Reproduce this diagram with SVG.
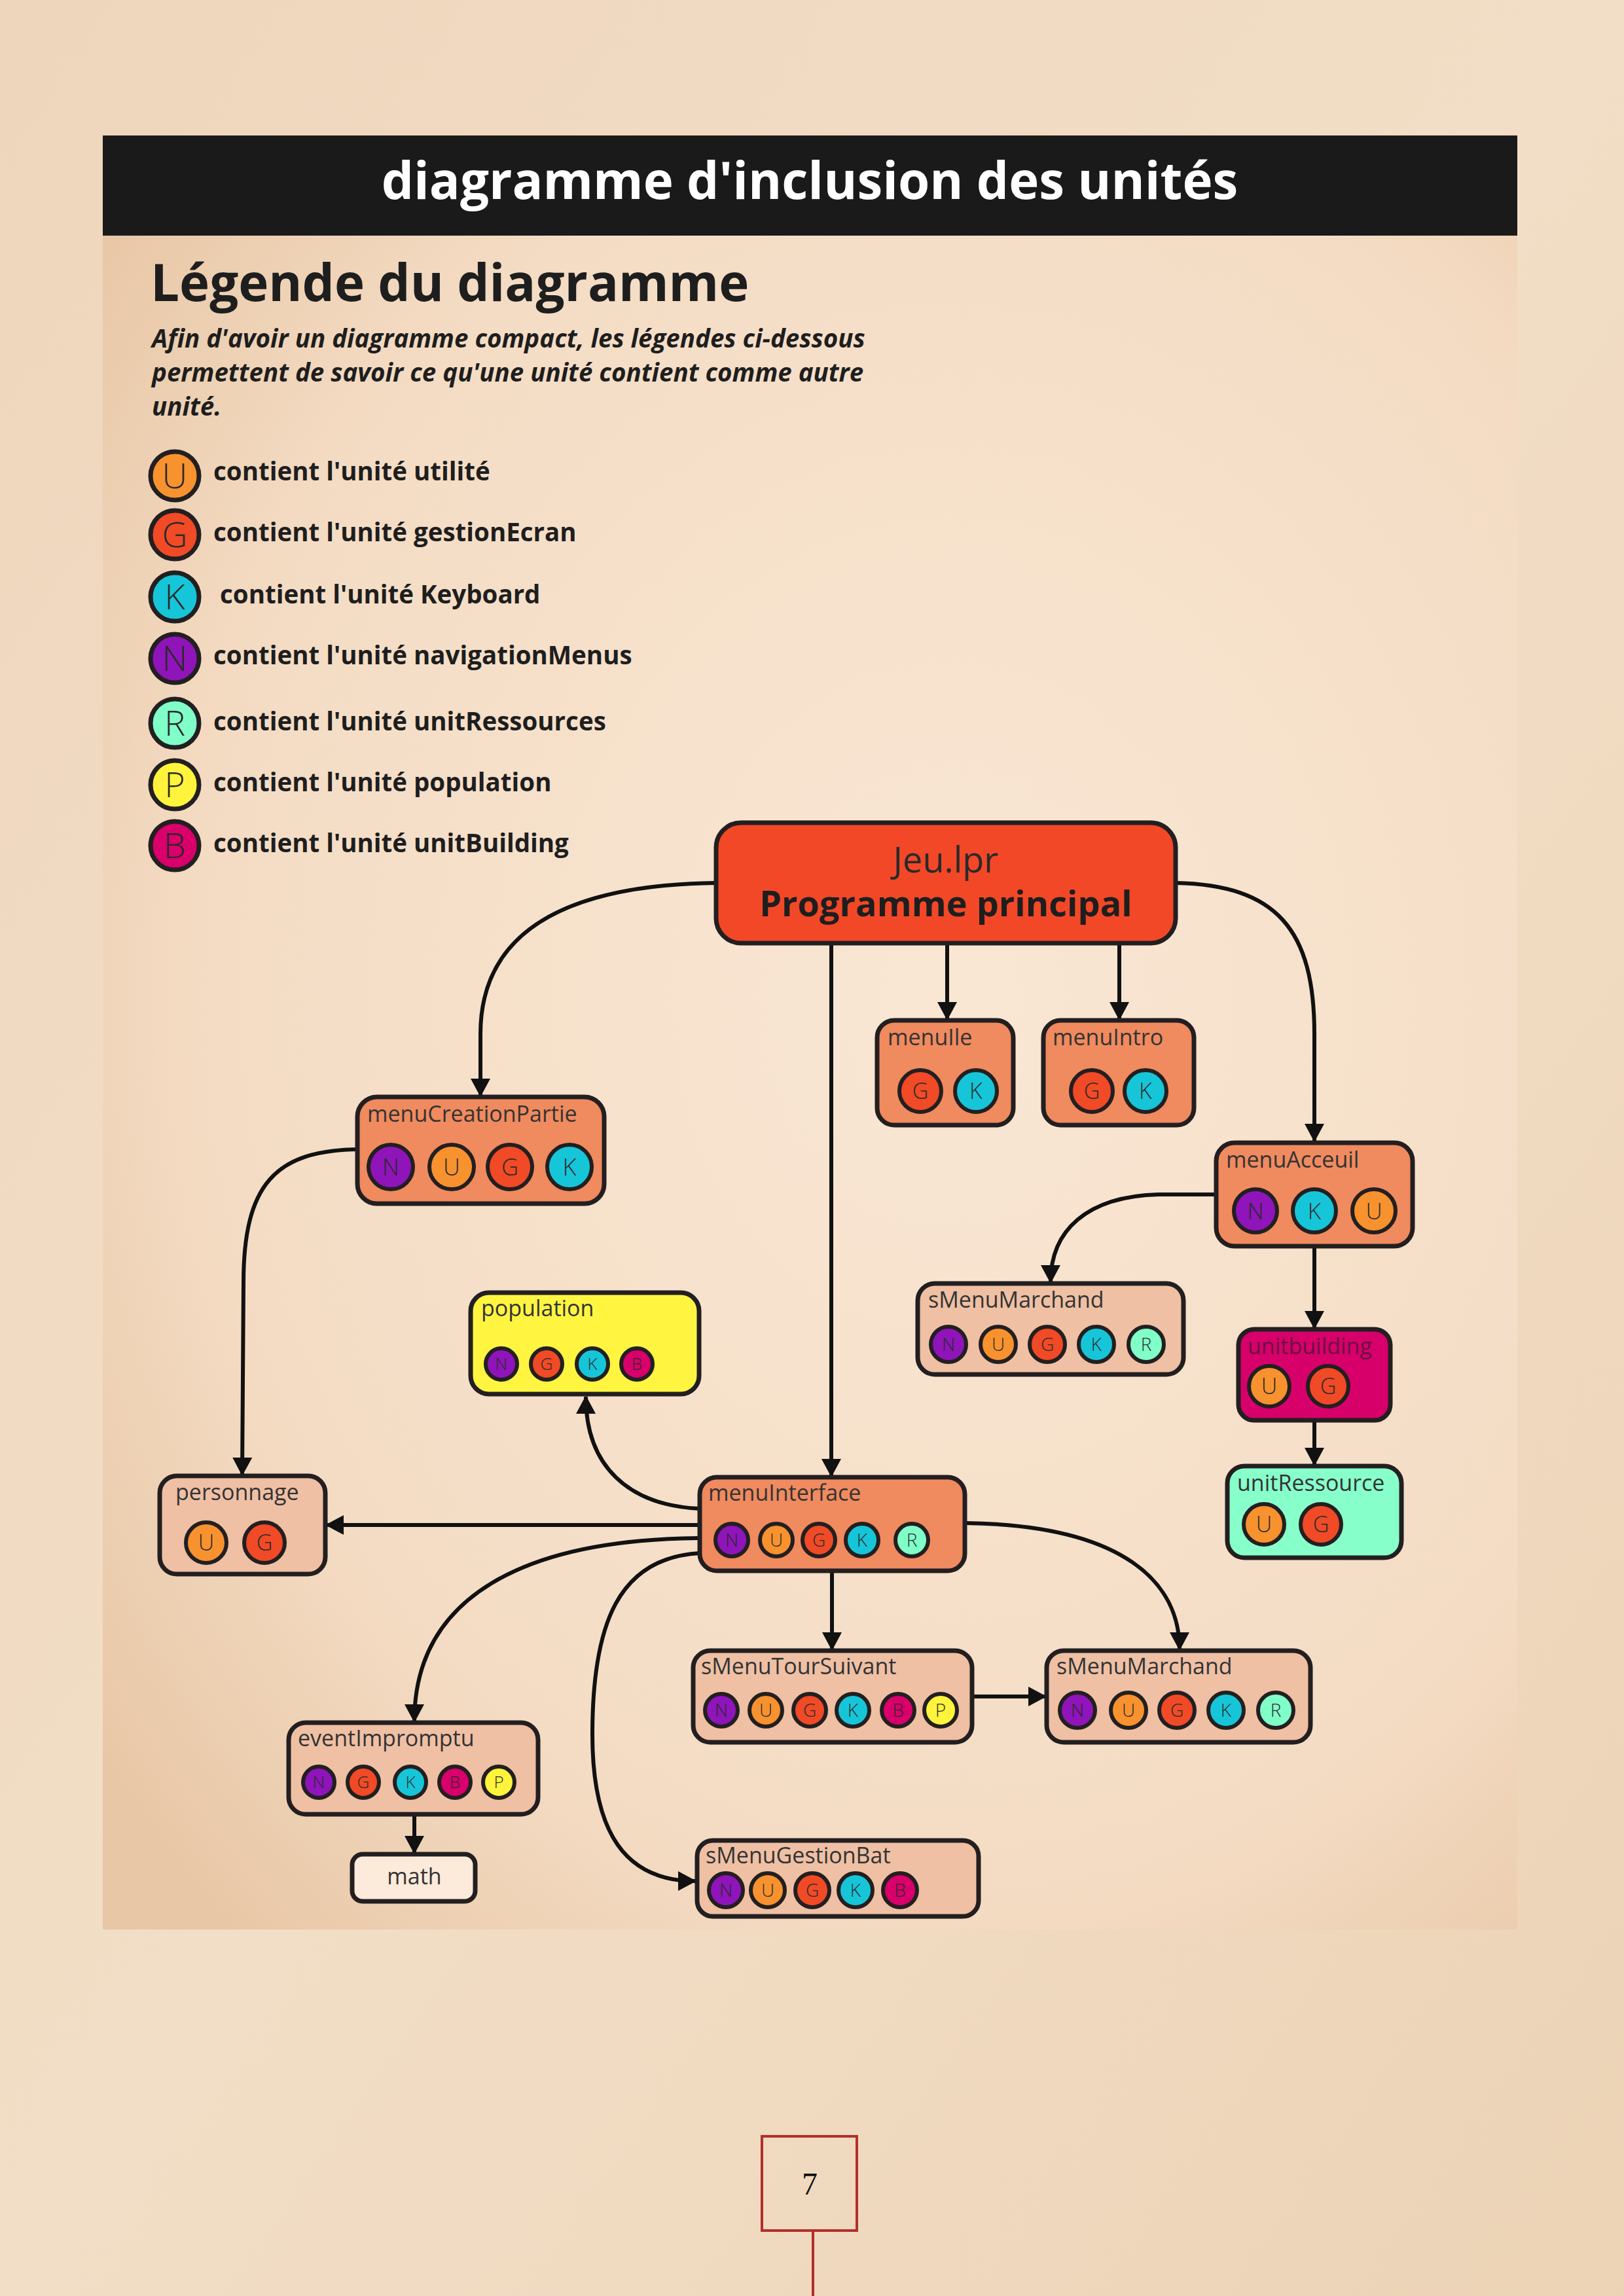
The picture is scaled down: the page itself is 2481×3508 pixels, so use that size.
<svg xmlns="http://www.w3.org/2000/svg" width="2481" height="3508" viewBox="0 0 2481 3508">
<defs>
<radialGradient id="paper" cx="0.6" cy="0.45" r="0.75">
<stop offset="0" stop-color="#F9E7D4"/>
<stop offset="0.7" stop-color="#F4DCC4"/>
<stop offset="1" stop-color="#E8C7A6"/>
</radialGradient>
<linearGradient id="outer" x1="0" y1="0" x2="1" y2="1">
<stop offset="0" stop-color="#EED6BC"/>
<stop offset="0.5" stop-color="#F2DEC6"/>
<stop offset="1" stop-color="#ECD3B6"/>
</linearGradient>
<marker id="arr" markerUnits="userSpaceOnUse" markerWidth="28" markerHeight="30" refX="26" refY="15" orient="auto">
<path d="M0,0 L28,15 L0,30 z" fill="#111"/>
</marker>
<style>
.t{font-family:"Open Sans","DejaVu Sans",sans-serif}
.lbl{font-family:"Open Sans","DejaVu Sans",sans-serif;font-size:34px;fill:#333}
.nd{stroke:#231F20;stroke-width:7}
.menu{fill:#F08A5F}
.smenu{fill:#EFC0A4}
.c{stroke:#231F20;stroke-width:6}
.lc{stroke:#231F20;stroke-width:7}
.U{fill:#F7922F}.G{fill:#F04A26}.K{fill:#16C6D8}.N{fill:#8F14BA}.R{fill:#80FFC9}.P{fill:#FFF43B}.B{fill:#D9006B}
.ct{font-family:"Open Sans","DejaVu Sans",sans-serif;font-weight:300;fill:#2a2a2a;text-anchor:middle}
.leg{font-family:"Open Sans","DejaVu Sans",sans-serif;font-weight:700;font-size:38.5px;fill:#1e1e1e}
.it{font-family:"Open Sans","DejaVu Sans",sans-serif;font-weight:700;font-style:italic;font-size:38.5px;fill:#1e1e1e}
.cn{fill:none;stroke:#111;stroke-width:6}
</style>
</defs>
<rect x="0" y="0" width="2481" height="3508" fill="url(#outer)"/>
<rect x="157" y="360" width="2161" height="2588" fill="url(#paper)"/>
<rect x="157" y="207" width="2161" height="153" fill="#1A1A1A"/>
<text class="t" x="1237" y="304" font-size="78" font-weight="700" fill="#FFFFFF" text-anchor="middle">diagramme d'inclusion des unités</text>

<g id="legende">
<text class="t" x="230" y="460" font-size="78" font-weight="700" fill="#1E1E1E">Légende du diagramme</text>
<text class="it" x="232" y="531">Afin d'avoir un diagramme compact, les légendes ci-dessous</text>
<text class="it" x="232" y="583">permettent de savoir ce qu'une unité contient comme autre</text>
<text class="it" x="232" y="635">unité.</text>
<circle class="lc U" cx="267" cy="727" r="37"/><text class="ct" x="267" y="746" font-size="54">U</text>
<circle class="lc G" cx="267" cy="817" r="37"/><text class="ct" x="267" y="836" font-size="54">G</text>
<circle class="lc K" cx="267" cy="912" r="37"/><text class="ct" x="267" y="931" font-size="54">K</text>
<circle class="lc N" cx="267" cy="1006" r="37"/><text class="ct" x="267" y="1025" font-size="54">N</text>
<circle class="lc R" cx="267" cy="1105" r="37"/><text class="ct" x="267" y="1124" font-size="54">R</text>
<circle class="lc P" cx="267" cy="1199" r="37"/><text class="ct" x="267" y="1218" font-size="54">P</text>
<circle class="lc B" cx="267" cy="1292" r="37"/><text class="ct" x="267" y="1311" font-size="54">B</text>
<text class="leg" x="326" y="734">contient l'unité utilité</text>
<text class="leg" x="326" y="827">contient l'unité gestionEcran</text>
<text class="leg" x="336" y="922">contient l'unité Keyboard</text>
<text class="leg" x="326" y="1015">contient l'unité navigationMenus</text>
<text class="leg" x="326" y="1116">contient l'unité unitRessources</text>
<text class="leg" x="326" y="1209">contient l'unité population</text>
<text class="leg" x="326" y="1302">contient l'unité unitBuilding</text>
</g>

<g id="connectors">
<path class="cn" d="M1094,1349 C870,1352 734,1420 734,1580 L734,1674" marker-end="url(#arr)"/>
<path class="cn" d="M1270,1441 L1270,2255" marker-end="url(#arr)"/>
<path class="cn" d="M1447,1441 L1447,1557" marker-end="url(#arr)"/>
<path class="cn" d="M1710,1441 L1710,1557" marker-end="url(#arr)"/>
<path class="cn" d="M1796,1349 C1950,1352 2008,1420 2008,1580 L2008,1743" marker-end="url(#arr)"/>
<path class="cn" d="M546,1756 C420,1758 372,1810 372,1960 L370,2253" marker-end="url(#arr)"/>
<path class="cn" d="M1858,1825 L1770,1825 C1660,1828 1605,1880 1605,1959" marker-end="url(#arr)"/>
<path class="cn" d="M2008,1904 L2008,2029" marker-end="url(#arr)"/>
<path class="cn" d="M2008,2170 L2008,2238" marker-end="url(#arr)"/>
<path class="cn" d="M1069,2305 C960,2300 895,2240 895,2134" marker-end="url(#arr)"/>
<path class="cn" d="M1069,2330 L499,2330" marker-end="url(#arr)"/>
<path class="cn" d="M1069,2350 C800,2352 633,2440 633,2630" marker-end="url(#arr)"/>
<path class="cn" d="M1069,2373 C945,2380 905,2480 905,2650 C905,2800 955,2874 1062,2874" marker-end="url(#arr)"/>
<path class="cn" d="M1271,2400 L1271,2520" marker-end="url(#arr)"/>
<path class="cn" d="M1474,2327 C1720,2330 1802,2420 1802,2520" marker-end="url(#arr)"/>
<path class="cn" d="M1485,2592 L1597,2592" marker-end="url(#arr)"/>
<path class="cn" d="M633,2772 L633,2831" marker-end="url(#arr)"/>
</g>

<g id="jeu">
<rect class="nd" x="1094" y="1257" width="702" height="184" rx="38" fill="#F24827"/>
<text class="t" x="1445" y="1333" font-size="54" fill="#2a2a2a" text-anchor="middle">Jeu.lpr</text>
<text class="t" x="1445" y="1400" font-size="54" font-weight="700" fill="#1e1e1e" text-anchor="middle">Programme principal</text>
</g>

<g id="menuIle">
<rect class="nd menu" x="1340" y="1559" width="208" height="160" rx="26"/>
<text class="lbl" x="1356" y="1597">menuIle</text>
<circle class="c G" cx="1406" cy="1667" r="32"/><text class="ct" x="1406" y="1679" font-size="34">G</text>
<circle class="c K" cx="1491" cy="1667" r="32"/><text class="ct" x="1491" y="1679" font-size="34">K</text>
</g>

<g id="menuIntro">
<rect class="nd menu" x="1594" y="1559" width="230" height="160" rx="26"/>
<text class="lbl" x="1608" y="1597">menuIntro</text>
<circle class="c G" cx="1668" cy="1667" r="32"/><text class="ct" x="1668" y="1679" font-size="34">G</text>
<circle class="c K" cx="1750" cy="1667" r="32"/><text class="ct" x="1750" y="1679" font-size="34">K</text>
</g>

<g id="menuCreationPartie">
<rect class="nd menu" x="546" y="1676" width="377" height="163" rx="30"/>
<text class="lbl" x="561" y="1714">menuCreationPartie</text>
<circle class="c N" cx="597" cy="1783" r="34"/><text class="ct" x="597" y="1796" font-size="36">N</text>
<circle class="c U" cx="690" cy="1783" r="34"/><text class="ct" x="690" y="1796" font-size="36">U</text>
<circle class="c G" cx="779" cy="1783" r="34"/><text class="ct" x="779" y="1796" font-size="36">G</text>
<circle class="c K" cx="870" cy="1783" r="34"/><text class="ct" x="870" y="1796" font-size="36">K</text>
</g>

<g id="menuAcceuil">
<rect class="nd menu" x="1858" y="1746" width="300" height="158" rx="28"/>
<text class="lbl" x="1873" y="1784">menuAcceuil</text>
<circle class="c N" cx="1918" cy="1850" r="33"/><text class="ct" x="1918" y="1863" font-size="35">N</text>
<circle class="c K" cx="2008" cy="1850" r="33"/><text class="ct" x="2008" y="1863" font-size="35">K</text>
<circle class="c U" cx="2099" cy="1850" r="33"/><text class="ct" x="2099" y="1863" font-size="35">U</text>
</g>

<g id="sMenuMarchand1">
<rect class="nd smenu" x="1402" y="1961" width="406" height="139" rx="26"/>
<text class="lbl" x="1418" y="1998">sMenuMarchand</text>
<circle class="c N" cx="1449" cy="2054" r="27"/><text class="ct" x="1449" y="2064" font-size="28">N</text>
<circle class="c U" cx="1525" cy="2054" r="27"/><text class="ct" x="1525" y="2064" font-size="28">U</text>
<circle class="c G" cx="1600" cy="2054" r="27"/><text class="ct" x="1600" y="2064" font-size="28">G</text>
<circle class="c K" cx="1675" cy="2054" r="27"/><text class="ct" x="1675" y="2064" font-size="28">K</text>
<circle class="c R" cx="1751" cy="2054" r="27"/><text class="ct" x="1751" y="2064" font-size="28">R</text>
</g>

<g id="unitbuilding">
<rect class="nd" x="1892" y="2031" width="232" height="139" rx="24" fill="#D7006B"/>
<text class="lbl" x="1906" y="2069" style="fill:#6A1240">unitbuilding</text>
<circle class="c U" cx="1939" cy="2118" r="31"/><text class="ct" x="1939" y="2130" font-size="34">U</text>
<circle class="c G" cx="2029" cy="2118" r="31"/><text class="ct" x="2029" y="2130" font-size="34">G</text>
</g>

<g id="unitRessource">
<rect class="nd" x="1875" y="2240" width="266" height="140" rx="26" fill="#87FFCB"/>
<text class="lbl" x="1890" y="2278">unitRessource</text>
<circle class="c U" cx="1931" cy="2329" r="31"/><text class="ct" x="1931" y="2341" font-size="34">U</text>
<circle class="c G" cx="2018" cy="2329" r="31"/><text class="ct" x="2018" y="2341" font-size="34">G</text>
</g>

<g id="population">
<rect class="nd" x="719" y="1975" width="349" height="155" rx="28" fill="#FFF541"/>
<text class="lbl" x="735" y="2011">population</text>
<circle class="c N" cx="766" cy="2084" r="24"/><text class="ct" x="766" y="2093" font-size="26">N</text>
<circle class="c G" cx="835" cy="2084" r="24"/><text class="ct" x="835" y="2093" font-size="26">G</text>
<circle class="c K" cx="905" cy="2084" r="24"/><text class="ct" x="905" y="2093" font-size="26">K</text>
<circle class="c B" cx="973" cy="2084" r="24"/><text class="ct" x="973" y="2093" font-size="26">B</text>
</g>

<g id="personnage">
<rect class="nd smenu" x="244" y="2255" width="253" height="150" rx="26"/>
<text class="lbl" x="268" y="2292">personnage</text>
<circle class="c U" cx="315" cy="2357" r="31"/><text class="ct" x="315" y="2369" font-size="34">U</text>
<circle class="c G" cx="404" cy="2357" r="31"/><text class="ct" x="404" y="2369" font-size="34">G</text>
</g>

<g id="menuInterface">
<rect class="nd menu" x="1069" y="2257" width="405" height="143" rx="26"/>
<text class="lbl" x="1082" y="2293">menuInterface</text>
<circle class="c N" cx="1118" cy="2353" r="25"/><text class="ct" x="1118" y="2363" font-size="28">N</text>
<circle class="c U" cx="1186" cy="2353" r="25"/><text class="ct" x="1186" y="2363" font-size="28">U</text>
<circle class="c G" cx="1251" cy="2353" r="25"/><text class="ct" x="1251" y="2363" font-size="28">G</text>
<circle class="c K" cx="1317" cy="2353" r="25"/><text class="ct" x="1317" y="2363" font-size="28">K</text>
<circle class="c R" cx="1393" cy="2353" r="25"/><text class="ct" x="1393" y="2363" font-size="28">R</text>
</g>

<g id="sMenuTourSuivant">
<rect class="nd smenu" x="1059" y="2522" width="426" height="140" rx="26"/>
<text class="lbl" x="1071" y="2558">sMenuTourSuivant</text>
<circle class="c N" cx="1102" cy="2613" r="25"/><text class="ct" x="1102" y="2623" font-size="28">N</text>
<circle class="c U" cx="1170" cy="2613" r="25"/><text class="ct" x="1170" y="2623" font-size="28">U</text>
<circle class="c G" cx="1237" cy="2613" r="25"/><text class="ct" x="1237" y="2623" font-size="28">G</text>
<circle class="c K" cx="1303" cy="2613" r="25"/><text class="ct" x="1303" y="2623" font-size="28">K</text>
<circle class="c B" cx="1372" cy="2613" r="25"/><text class="ct" x="1372" y="2623" font-size="28">B</text>
<circle class="c P" cx="1437" cy="2613" r="25"/><text class="ct" x="1437" y="2623" font-size="28">P</text>
</g>

<g id="sMenuMarchand2">
<rect class="nd smenu" x="1599" y="2522" width="403" height="140" rx="26"/>
<text class="lbl" x="1614" y="2558">sMenuMarchand</text>
<circle class="c N" cx="1646" cy="2613" r="27"/><text class="ct" x="1646" y="2623" font-size="28">N</text>
<circle class="c U" cx="1724" cy="2613" r="27"/><text class="ct" x="1724" y="2623" font-size="28">U</text>
<circle class="c G" cx="1798" cy="2613" r="27"/><text class="ct" x="1798" y="2623" font-size="28">G</text>
<circle class="c K" cx="1873" cy="2613" r="27"/><text class="ct" x="1873" y="2623" font-size="28">K</text>
<circle class="c R" cx="1949" cy="2613" r="27"/><text class="ct" x="1949" y="2623" font-size="28">R</text>
</g>

<g id="eventImpromptu">
<rect class="nd smenu" x="441" y="2632" width="381" height="140" rx="26"/>
<text class="lbl" x="455" y="2668">eventImpromptu</text>
<circle class="c N" cx="487" cy="2723" r="24"/><text class="ct" x="487" y="2732" font-size="26">N</text>
<circle class="c G" cx="555" cy="2723" r="24"/><text class="ct" x="555" y="2732" font-size="26">G</text>
<circle class="c K" cx="627" cy="2723" r="24"/><text class="ct" x="627" y="2732" font-size="26">K</text>
<circle class="c B" cx="695" cy="2723" r="24"/><text class="ct" x="695" y="2732" font-size="26">B</text>
<circle class="c P" cx="762" cy="2723" r="24"/><text class="ct" x="762" y="2732" font-size="26">P</text>
</g>

<g id="math">
<rect class="nd" x="538" y="2833" width="188" height="72" rx="16" fill="#FCEADA"/>
<text class="lbl" x="633" y="2879" text-anchor="middle">math</text>
</g>

<g id="sMenuGestionBat">
<rect class="nd smenu" x="1065" y="2812" width="430" height="116" rx="24"/>
<text class="lbl" x="1078" y="2847">sMenuGestionBat</text>
<circle class="c N" cx="1109" cy="2888" r="26"/><text class="ct" x="1109" y="2898" font-size="28">N</text>
<circle class="c U" cx="1173" cy="2888" r="26"/><text class="ct" x="1173" y="2898" font-size="28">U</text>
<circle class="c G" cx="1241" cy="2888" r="26"/><text class="ct" x="1241" y="2898" font-size="28">G</text>
<circle class="c K" cx="1307" cy="2888" r="26"/><text class="ct" x="1307" y="2898" font-size="28">K</text>
<circle class="c B" cx="1375" cy="2888" r="26"/><text class="ct" x="1375" y="2898" font-size="28">B</text>
</g>

<g id="page">
<rect x="1164" y="3264" width="145" height="144" fill="none" stroke="#B0302A" stroke-width="4"/>
<line x1="1242" y1="3408" x2="1242" y2="3508" stroke="#B0302A" stroke-width="4"/>
<text x="1237" y="3353" font-family="'Liberation Serif','Times New Roman',serif" font-size="48" fill="#111" text-anchor="middle">7</text>
</g>
</svg>
